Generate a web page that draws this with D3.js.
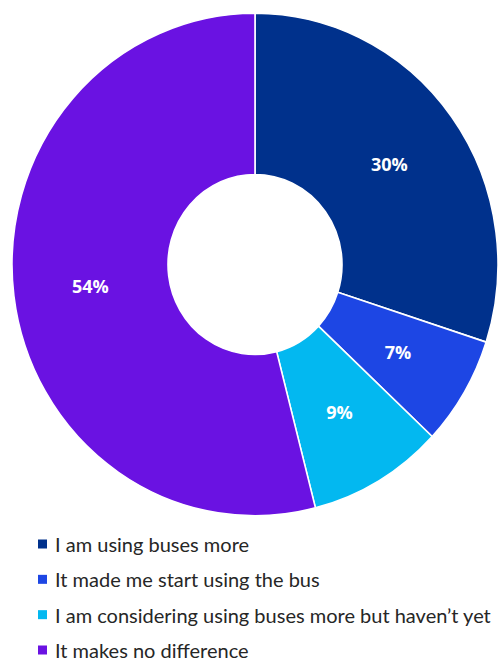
<!DOCTYPE html>
<html>
<head>
<meta charset="utf-8">
<script src="https://cdn.jsdelivr.net/npm/d3@7"></script>
<style>
  html, body { margin: 0; padding: 0; background: #fff; }
  svg { display: block; }
</style>
</head>
<body>
<svg id="chart" width="500" height="663"></svg>
<script>
// Survey responses, in drawing order (clockwise from 12 o'clock)
const categories = [
  "I am using buses more",
  "It made me start using the bus",
  "I am considering using buses more but haven\u2019t yet",
  "It makes no difference"
];
const values = [30, 7, 9, 54];
const valueLabels = ["30%", "7%", "9%", "54%"];
const colors = ["#00318c", "#1d46e4", "#03b8f0", "#6a12e2"];

const svg = d3.select("#chart");

const cx = 255, cy = 264.5;
const outerR = 243, innerR = 87;
const yStretch = 1.034;

const pie = d3.pie().sort(null).value(d => d.value);
const arcs = pie(categories.map((c, i) => ({ name: c, value: values[i], label: valueLabels[i], color: colors[i] })));

const arc = d3.arc().innerRadius(innerR).outerRadius(outerR);
const labelArc = d3.arc().innerRadius(166).outerRadius(166);

const ring = svg.append("g")
  .attr("transform", `translate(${cx},${cy}) scale(1,${yStretch})`);

ring.selectAll("path")
  .data(arcs)
  .join("path")
  .attr("d", arc)
  .attr("fill", d => d.data.color)
  .attr("stroke", "#ffffff")
  .attr("stroke-width", 1.6)
  .attr("stroke-linejoin", "round");

// Percentage labels (drawn unscaled so the glyphs keep their shape)
const labels = svg.append("g").attr("transform", `translate(${cx},${cy})`);
labels.selectAll("text")
  .data(arcs)
  .join("text")
  .attr("x", d => labelArc.centroid(d)[0])
  .attr("y", d => labelArc.centroid(d)[1] * yStretch)
  .attr("text-anchor", "middle")
  .attr("dominant-baseline", "central")
  .attr("fill", "#ffffff")
  .attr("font-family", "'Open Sans', 'DejaVu Sans', sans-serif")
  .attr("font-weight", "bold")
  .attr("font-size", 18)
  .text(d => d.data.label);

// Legend
const legendY = d3.scalePoint().domain(categories).range([544, 650]);
const legend = svg.append("g");
const rows = legend.selectAll("g")
  .data(arcs)
  .join("g")
  .attr("transform", d => `translate(0,${legendY(d.data.name)})`);

rows.append("rect")
  .attr("x", 38)
  .attr("y", -4.5)
  .attr("width", 9)
  .attr("height", 9)
  .attr("fill", d => d.data.color);

rows.append("text")
  .attr("x", 55)
  .attr("y", 0)
  .attr("dominant-baseline", "central")
  .attr("fill", "#262626")
  .attr("font-family", "Lato, 'Open Sans', sans-serif")
  .attr("font-size", 20)
  .text(d => d.data.name);
</script>
</body>
</html>
